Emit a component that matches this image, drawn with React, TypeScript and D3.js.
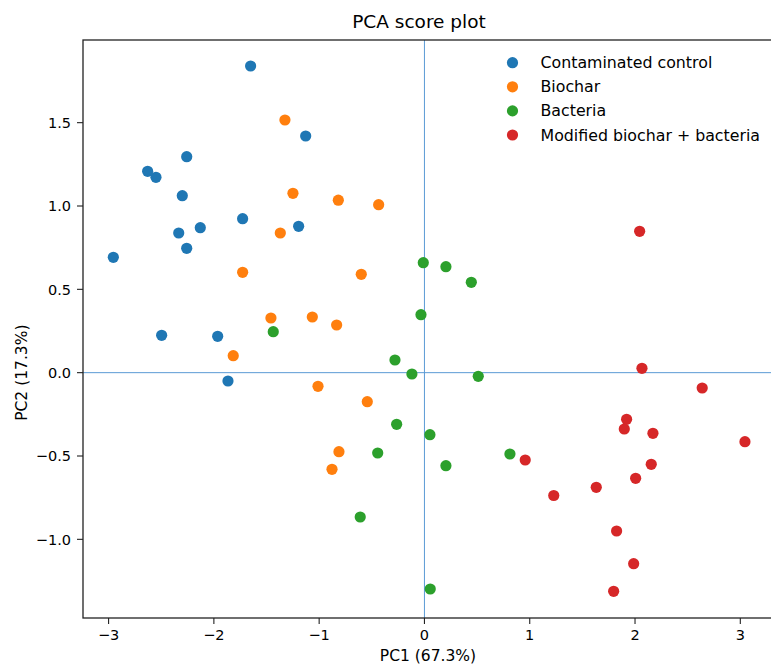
import React from "react";
import * as d3 from "d3";

const seriesNames = ["Contaminated control", "Biochar", "Bacteria", "Modified biochar + bacteria"];
const colors = ["#1f77b4", "#ff7f0e", "#2ca02c", "#d62728"];

const controlX = [-1.651, -1.128, -2.258, -2.629, -2.55, -2.3, -1.727, -1.195, -2.129, -2.334, -2.258, -2.955, -2.496, -1.964, -1.866];
const controlY = [1.84, 1.42, 1.296, 1.208, 1.172, 1.062, 0.924, 0.878, 0.87, 0.838, 0.746, 0.692, 0.224, 0.218, -0.05];

const biocharX = [-1.325, -1.249, -0.818, -0.435, -1.369, -1.727, -0.6, -1.458, -1.065, -0.834, -1.816, -1.011, -0.543, -0.812, -0.878];
const biocharY = [1.516, 1.076, 1.035, 1.008, 0.838, 0.602, 0.59, 0.328, 0.334, 0.286, 0.102, -0.082, -0.174, -0.474, -0.58];

const bacteriaX = [-1.436, -0.011, 0.204, 0.445, -0.033, -0.28, -0.119, 0.511, -0.264, 0.052, -0.444, 0.204, 0.812, -0.61, 0.055];
const bacteriaY = [0.246, 0.66, 0.636, 0.542, 0.348, 0.076, -0.008, -0.022, -0.31, -0.372, -0.482, -0.558, -0.488, -0.866, -1.298];

const modifiedX = [2.044, 2.066, 2.638, 1.92, 1.898, 2.17, 3.044, 0.957, 2.154, 2.006, 1.632, 1.228, 1.825, 1.987, 1.797];
const modifiedY = [0.848, 0.026, -0.092, -0.28, -0.338, -0.364, -0.414, -0.524, -0.55, -0.634, -0.688, -0.737, -0.95, -1.146, -1.312];

const xTicks = [-3, -2, -1, 0, 1, 2, 3];
const yTicks = [-1.0, -0.5, 0.0, 0.5, 1.0, 1.5];

const allX = [controlX, biocharX, bacteriaX, modifiedX];
const allY = [controlY, biocharY, bacteriaY, modifiedY];

const W = 771;
const H = 667;
const left = 83;
const right = 774;
const top = 40;
const bottom = 618;

export default function App() {
  const x = d3.scaleLinear().domain([-3.243, 3.32]).range([left, right]);
  const y = d3.scaleLinear().domain([-1.472, 1.996]).range([bottom, top]);
  const font = "DejaVu Sans, sans-serif";
  const fmtY = (v: number) => (v < 0 ? "\u2212" : "") + Math.abs(v).toFixed(1);
  const fmtX = (v: number) => (v < 0 ? "\u2212" : "") + Math.abs(v).toString();

  return (
    <svg width={W} height={H} style={{ position: "absolute", left: 0, top: 0, background: "#fff" }} fontFamily={font}>
      <rect x={0} y={0} width={W} height={H} fill="#fff" />
      <text x={419} y={28} textAnchor="middle" fontSize={18.5} fill="#000">PCA score plot</text>

      {/* crosshair lines */}
      <line x1={left} x2={right} y1={y(0)} y2={y(0)} stroke="#5b9bd5" strokeWidth={1} />
      <line x1={x(0)} x2={x(0)} y1={top} y2={bottom} stroke="#5b9bd5" strokeWidth={1} />

      {/* points */}
      {allX.map((xs, si) =>
        xs.map((xv, i) => (
          <circle key={`${si}-${i}`} cx={x(xv)} cy={y(allY[si][i])} r={5.6} fill={colors[si]} />
        ))
      )}

      {/* spines */}
      <rect x={left} y={top} width={right - left} height={bottom - top} fill="none" stroke="#222" strokeWidth={1.3} />

      {/* x axis ticks */}
      {xTicks.map((t) => (
        <g key={`xt${t}`}>
          <line x1={x(t)} x2={x(t)} y1={bottom} y2={bottom + 6} stroke="#222" strokeWidth={1.1} />
          <text x={x(t)} y={bottom + 22} textAnchor="middle" fontSize={14.5} fill="#000">{fmtX(t)}</text>
        </g>
      ))}
      {yTicks.map((t) => (
        <g key={`yt${t}`}>
          <line x1={left - 6} x2={left} y1={y(t)} y2={y(t)} stroke="#222" strokeWidth={1.1} />
          <text x={left - 12} y={y(t) + 5.3} textAnchor="end" fontSize={14.5} fill="#000">{fmtY(t)}</text>
        </g>
      ))}

      <text x={428} y={661} textAnchor="middle" fontSize={15.5} fill="#000">PC1 (67.3%)</text>
      <text transform={`translate(27, ${y(0)}) rotate(-90)`} textAnchor="middle" fontSize={15.5} fill="#000">PC2 (17.3%)</text>

      {/* legend */}
      {seriesNames.map((name, i) => (
        <g key={name}>
          <circle cx={512.5} cy={62.7 + i * 24.1} r={5.6} fill={colors[i]} />
          <text x={540.5} y={62.7 + i * 24.1 + 5.5} fontSize={15.8} fill="#000">{name}</text>
        </g>
      ))}
    </svg>
  );
}
